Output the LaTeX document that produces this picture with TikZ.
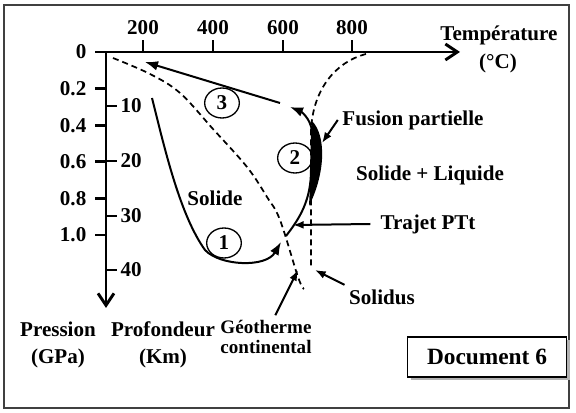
\documentclass[tikz,border=0pt]{standalone}
\usepackage{fontspec}
\setmainfont{Liberation Serif}
\usetikzlibrary{arrows.meta,shadows,shapes.geometric}

\begin{document}
\begin{tikzpicture}[x=0.75pt, y=-0.75pt, >=Latex,
    font=\fontsize{15.8}{18}\selectfont\bfseries,
    axe/.style={line width=2.2pt, -{Straight Barb[length=9pt, width=12pt]}},
    grad/.style={line width=2.2pt},
    courbe/.style={line width=1.5pt},
    tiret/.style={line width=1.3pt, dash pattern=on 4.5pt off 3pt},
    fleche/.style={->, line width=1.5pt, >={Latex[length=8pt, width=6pt]}},
    num/.style={ellipse, draw, line width=1pt, minimum width=26pt, minimum height=22.5pt,
                inner sep=0pt}]

  \useasboundingbox (0,0) rectangle (576,413);
  %% Frame
  \draw[line width=1.5pt, black!75] (4,5) rectangle (569,408);

  %% Axes
  \draw[axe] (95,52) -- (460,52);
  \draw[axe] (106,52) -- (106,308);

  %% Temperature graduations
  \foreach \t/\x in {200/143, 400/213, 600/283, 800/352} {
    \draw[grad] (\x,52) -- (\x,40);
    \node (t\t) at (\x,28) {\t};
  }
  %% Pressure graduations (left)
  \foreach \p/\y [count=\i] in {0/52, 0.2/88.6, 0.4/125.2, 0.6/161.8, 0.8/198.4, 1.0/235} {
    \draw[grad] (95,\y) -- (106,\y);
    \node[anchor=east] (p\i) at (91,\y) {\p};
  }
  %% Depth graduations (right)
  \foreach \d/\y in {10/106, 20/161, 30/216, 40/270} {
    \draw[grad] (106,\y) -- (117,\y);
    \node[anchor=west] (d\d) at (116,\y) {\d};
  }

  %% Axis titles
  \node (temp)   at (499,35)  {Température};
  \node (degc)   at (498,63)  {(°C)};
  \node (pres)   at (58,329)  {Pression};
  \node (gpa)    at (58,358)  {(GPa)};
  \node (prof)   at (163,329) {Profondeur};
  \node (km)     at (163,358) {(Km)};

  %% Geotherm (dashed)
  \draw[tiret] plot[smooth, tension=0.6] coordinates
    {(113,58) (150,74) (180,93) (213,129) (247,167) (267,197) (280,220) (298,277) (304,289)};
  %% Solidus (dashed)
  \draw[tiret] (366,54) .. controls (335,62) and (313,90) .. (311,130) -- (311,267);

  %% Partial melting lens
  \fill (312,121) .. controls (326,135) and (326,172) .. (309,206) -- (311,165) -- cycle;

  %% PTt path
  \draw[courbe, ->] (152,98) .. controls (165,150) and (180,215) .. (205,250)
    .. controls (220,266) and (266,268) .. (281,242);
  \draw[courbe, ->] (286,236) .. controls (300,218) and (311,200) .. (311,170)
    -- (312,132) .. controls (311,118) and (300,111) .. (290,107);
  \draw[courbe, ->] (280,103) -- (145,62);

  %% Stage numbers
  \node[num] (n1) at (224,243) {\raisebox{-2pt}{1}};
  \node[num] (n2) at (295,158) {\raisebox{-2pt}{2}};
  \node[num] (n3) at (222,103) {\raisebox{-2pt}{3}};

  %% Region labels
  \node (solide) at (215,198) {Solide};
  \node (sliq)   at (430,175) {Solide + Liquide};

  %% Pointed labels
  \node (fus)    at (413,120) {Fusion partielle};
  \node (trajet) at (428,224) {Trajet PTt};
  \node (sol)    at (382,297) {Solidus};
  \node[align=center, font=\fontsize{14.3}{15.5}\selectfont\bfseries] (geo) at (266,337)
    {Géotherme\\continental};

  \coordinate (lens)  at (322,143);
  \coordinate (ptt)   at (293,225);
  \coordinate (sold)  at (315,270);
  \coordinate (geoth) at (298,270);

  \draw[fleche] (fus.west) -- (lens);
  \draw[fleche] ([xshift=-4pt]trajet.west) -- (ptt);
  \draw[fleche] (sol.north west) -- (sold);
  \draw[fleche] ([xshift=7pt]geo.north) -- (geoth);

  %% Document label
  \node[draw, fill=white, line width=0.8pt, minimum width=119pt, minimum height=30pt,
        font=\fontsize{17.5}{20}\selectfont\bfseries,
        drop shadow={shadow xshift=2.5pt, shadow yshift=-2.5pt, fill=gray!60, opacity=1}]
    (doc) at (487,357) {Document 6};
\end{tikzpicture}
\end{document}
